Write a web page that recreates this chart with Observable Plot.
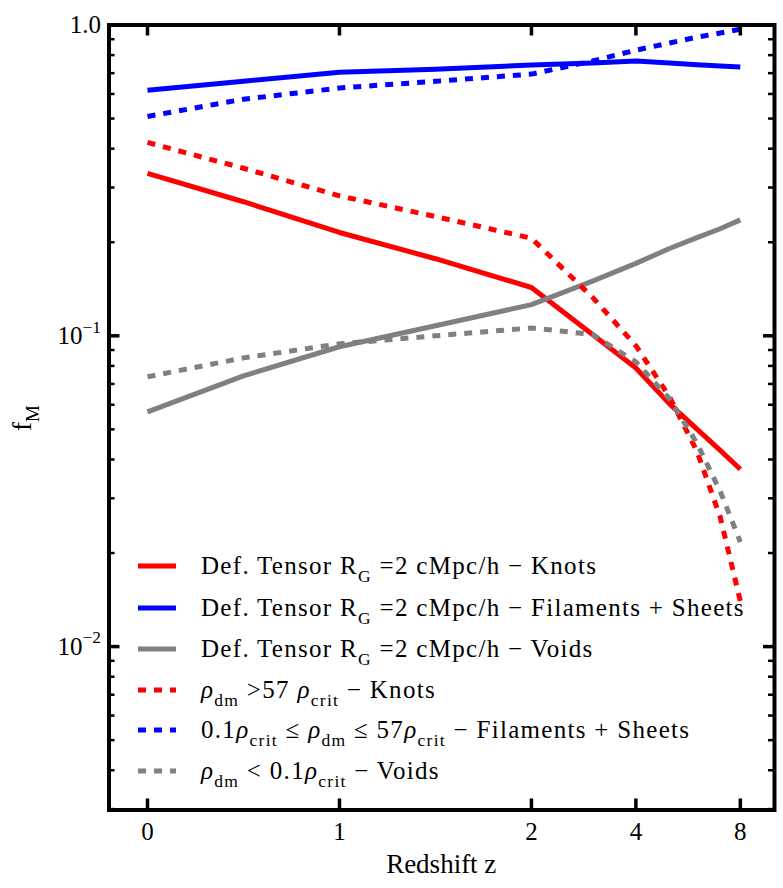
<!DOCTYPE html>
<html><head><meta charset="utf-8">
<script src="https://cdn.jsdelivr.net/npm/d3@7"></script>
<script src="https://cdn.jsdelivr.net/npm/@observablehq/plot@0.6"></script>
<style>
body{margin:0;background:#fff;}
#chart{width:783px;height:888px;}
svg text{font-family:"Liberation Serif","Times New Roman",serif;}
</style></head><body><div id="chart"></div>
<script>
// ---- data ----
const redshift = [0, 0.5, 1, 1.5, 2, 3, 4, 5, 6, 7, 8];
const knotsTensor      = [0.333, 0.270, 0.215, 0.177, 0.143, 0.101, 0.0788, 0.0604, 0.0501, 0.0428, 0.0372];
const filSheetsTensor  = [0.617, 0.659, 0.705, 0.721, 0.743, 0.754, 0.766, 0.754, 0.745, 0.738, 0.733];
const voidsTensor      = [0.0569, 0.0743, 0.0922, 0.1077, 0.126, 0.150, 0.171, 0.191, 0.207, 0.221, 0.236];
const knotsDensity     = [0.419, 0.346, 0.282, 0.242, 0.206, 0.133, 0.0929, 0.0636, 0.0425, 0.0261, 0.0140];
const filSheetsDensity = [0.508, 0.577, 0.627, 0.659, 0.695, 0.766, 0.830, 0.875, 0.914, 0.942, 0.970];
const voidsDensity     = [0.0738, 0.0849, 0.0942, 0.100, 0.106, 0.101, 0.0824, 0.0627, 0.0451, 0.0316, 0.0217];

const xTickValues = [0, 1, 2, 4, 8];
const xTickLabels = ["0", "1", "2", "4", "8"];
const yTickValues = [0.01, 0.1, 1];
const yTickLabels = ["10^−2", "10^−1", "1.0"];
const yMinorTicks = [0.003,0.004,0.005,0.006,0.007,0.008,0.009,
                     0.02,0.03,0.04,0.05,0.06,0.07,0.08,0.09,
                     0.2,0.3,0.4,0.5,0.6,0.7,0.8,0.9];

const series = [
  {values: knotsTensor,      color: "#ff0000", dotted: false},
  {values: filSheetsTensor,  color: "#0000ff", dotted: false},
  {values: voidsTensor,      color: "#808080", dotted: false},
  {values: knotsDensity,     color: "#ff0000", dotted: true},
  {values: filSheetsDensity, color: "#0000ff", dotted: true},
  {values: voidsDensity,     color: "#808080", dotted: true}
];

const legendEntries = [
  [{t:"Def. Tensor R"},{t:"G",sub:true},{t:" =2 cMpc/h − Knots"}],
  [{t:"Def. Tensor R"},{t:"G",sub:true},{t:" =2 cMpc/h − Filaments + Sheets"}],
  [{t:"Def. Tensor R"},{t:"G",sub:true},{t:" =2 cMpc/h − Voids"}],
  [{t:"ρ",it:true},{t:"dm",sub:true},{t:" >57 "},{t:"ρ",it:true},{t:"crit",sub:true},{t:" − Knots"}],
  [{t:"0.1"},{t:"ρ",it:true},{t:"crit",sub:true},{t:" ≤ "},{t:"ρ",it:true},{t:"dm",sub:true},{t:" ≤ 57"},{t:"ρ",it:true},{t:"crit",sub:true},{t:" − Filaments + Sheets"}],
  [{t:"ρ",it:true},{t:"dm",sub:true},{t:" < 0.1"},{t:"ρ",it:true},{t:"crit",sub:true},{t:" − Voids"}]
];

// broken x axis: linear up to z=2, then log2 spacing
function zPos(z){ return z <= 2 ? z : 2 + 0.544 * Math.log2(z / 2); }

const W = 783, H = 888;
const mL = 108.5, mR = 9, mT = 24.5, mB = 78.5;
const plotW = W - mL - mR, plotH = H - mT - mB;

const marks = [];
for (const s of series) {
  const rows = redshift.map((z, i) => ({z, f: s.values[i]}));
  marks.push(Plot.line(rows, {
    x: d => zPos(d.z), y: "f", stroke: s.color, strokeWidth: 5,
    strokeDasharray: s.dotted ? "8,8" : null, strokeLinecap: "butt", strokeLinejoin: "round"
  }));
}
marks.push(Plot.frame({stroke: "black", strokeWidth: 4}));
// inward ticks
marks.push(Plot.tickX(xTickValues, {x: zPos, insetTop: plotH - 11, stroke: "black", strokeWidth: 3.5}));
marks.push(Plot.tickX(xTickValues, {x: zPos, insetBottom: plotH - 11, stroke: "black", strokeWidth: 3.5}));
marks.push(Plot.tickY(yTickValues, {y: d => d, insetRight: plotW - 11, stroke: "black", strokeWidth: 3.5}));
marks.push(Plot.tickY(yTickValues, {y: d => d, insetLeft: plotW - 11, stroke: "black", strokeWidth: 3.5}));
marks.push(Plot.tickY(yMinorTicks, {y: d => d, insetRight: plotW - 6, stroke: "black", strokeWidth: 2.5}));
marks.push(Plot.tickY(yMinorTicks, {y: d => d, insetLeft: plotW - 6, stroke: "black", strokeWidth: 2.5}));
marks.push(Plot.axisX({
  ticks: xTickValues.map(zPos), tickSize: 0, tickPadding: 12, fontSize: 25, label: null,
  tickFormat: d => xTickLabels[xTickValues.findIndex(z => Math.abs(zPos(z) - d) < 1e-9)]
}));
marks.push(Plot.axisY({
  ticks: yTickValues, tickSize: 0, tickPadding: 8, fontSize: 25, label: null,
  tickFormat: d => yTickLabels[yTickValues.findIndex(v => Math.abs(v - d) < 1e-12)]
}));

const chart = Plot.plot({
  width: W, height: H,
  marginLeft: mL, marginRight: mR, marginTop: mT, marginBottom: mB,
  style: {background: "#fff", color: "black", fontFamily: "Liberation Serif, serif"},
  x: {type: "linear", domain: [-0.2005, 3.266]},
  y: {type: "log", domain: [0.00298, 1]},
  marks
});
document.getElementById("chart").appendChild(chart);

// rich text helper (subscripts / superscripts / italics)
function rich(textSel, parts, fs) {
  let shift = 0;
  for (const p of parts) {
    const target = p.sub ? 0.3 * fs : p.sup ? -0.45 * fs : 0;
    const ts = textSel.append("tspan").text(p.t);
    if (target - shift !== 0) ts.attr("dy", target - shift);
    if (p.sub || p.sup) ts.attr("font-size", fs * 0.7);
    if (p.it) ts.attr("font-style", "italic");
    shift = target;
  }
}

const svg = d3.select(chart);
// superscript tick labels
svg.selectAll('g[aria-label="y-axis tick label"] text').each(function() {
  const s = this.textContent;
  if (s.includes("^")) {
    const [base, exp] = s.split("^");
    const t = d3.select(this);
    t.text(null);
    rich(t, [{t: base}, {t: exp, sup: true}], 25);
  }
});

// axis labels
const xl = svg.append("text").attr("x", mL + plotW / 2).attr("y", 873)
  .attr("text-anchor", "middle").attr("font-size", 27).attr("fill", "black");
rich(xl, [{t: "Redshift z"}], 27);
const yl = svg.append("text").attr("transform", "translate(31,418) rotate(-90)")
  .attr("text-anchor", "middle").attr("font-size", 27).attr("fill", "black");
rich(yl, [{t: "f"}, {t: "M", sub: true}], 27);

// legend
const rowY = [566, 608, 649, 690, 730, 771];
const lg = svg.append("g").attr("text-anchor", "start");
series.forEach((s, i) => {
  lg.append("line").attr("x1", 138).attr("x2", 176).attr("y1", rowY[i]).attr("y2", rowY[i])
    .attr("stroke", s.color).attr("stroke-width", 5)
    .attr("stroke-dasharray", s.dotted ? "8,8" : null);
  const t = lg.append("text").attr("x", 201).attr("y", rowY[i] + 8)
    .attr("text-anchor", "start").attr("font-size", 25)
    .attr("letter-spacing", 1.3).attr("fill", "black");
  rich(t, legendEntries[i], 25);
});
</script></body></html>
